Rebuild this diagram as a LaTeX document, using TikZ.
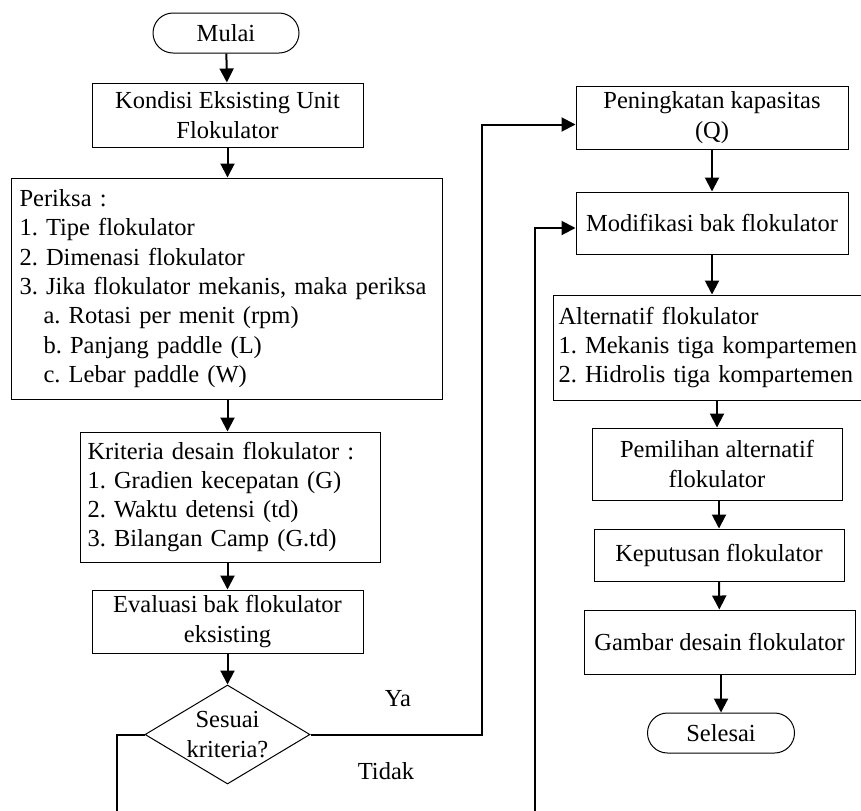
\documentclass[tikz,border=0pt]{standalone}
\usepackage{fontspec}
\setmainfont{Liberation Serif}
\usetikzlibrary{arrows.meta, shapes.geometric}
\frenchspacing

\begin{document}
\begin{tikzpicture}[x=0.5pt, y=-0.5pt,
    every node/.style={font=\fontsize{12.25}{14.65}\selectfont, inner sep=0pt},
    proses/.style={draw, line width=0.5pt, rectangle, align=center},
    daftar/.style={draw, line width=0.5pt, rectangle, align=left, anchor=west},
    terminal/.style={draw, line width=0.5pt, rectangle, rounded corners=10pt, minimum width=73pt, minimum height=20pt},
    panah/.style={-{Triangle[length=7pt, width=7pt]}, line width=1pt}]
    \useasboundingbox (0,0) rectangle (861,810);
    \clip (0,0) rectangle (861,810);
    \node [terminal] (mulai) at (226,33) {Mulai};
    \node [proses, minimum width=135.5pt, minimum height=32pt] (kondisi) at (227.5,115) {Kondisi Eksisting Unit\\Flokulator};
    \node [daftar, text width=207.5pt, inner xsep=4pt, minimum height=110.5pt] (periksa) at (11,288.5) {Periksa :\\1. Tipe flokulator\\2. Dimenasi flokulator\\3. Jika flokulator mekanis, maka periksa\\\hspace*{12pt}a. Rotasi per menit (rpm)\\\hspace*{12pt}b. Panjang paddle (L)\\\hspace*{12pt}c. Lebar paddle (W)};
    \node [daftar, text width=143pt, inner xsep=3.5pt, minimum height=65pt] (kriteria) at (80,497) {Kriteria desain flokulator :\\1. Gradien kecepatan (G)\\2. Waktu detensi (td)\\3. Bilangan Camp (G.td)};
    \node [proses, minimum width=135.5pt, minimum height=31.5pt] (evaluasi) at (227.5,621.5) {Evaluasi bak flokulator\\eksisting};
    \node [draw, line width=0.5pt, diamond, aspect=1.667, minimum width=82.5pt, minimum height=49.5pt, align=center] (sesuai) at (227.5,734.5) {Sesuai\\kriteria?};
    \node (ya) at (398,699) {Ya};
    \node (tidak) at (386,771) {Tidak};
    \node [proses, minimum width=136pt, minimum height=31.5pt] (peningkatan) at (712,117.5) {Peningkatan kapasitas\\(Q)};
    \node [proses, minimum width=136pt, minimum height=31pt] (modifikasi) at (712,223) {Modifikasi bak flokulator};
    \node [daftar, text width=160pt, inner xsep=2.5pt, minimum height=52.5pt] (alternatif) at (553,347.5) {Alternatif flokulator\\1. Mekanis tiga kompartemen\\2. Hidrolis tiga kompartemen};
    \node [proses, minimum width=125pt, minimum height=36pt] (pemilihan) at (717,464) {Pemilihan alternatif\\flokulator};
    \node [proses, minimum width=125pt, minimum height=26pt] (keputusan) at (719,555) {Keputusan flokulator};
    \node [proses, minimum width=135.5pt, minimum height=32pt] (gambar) at (719.5,642) {Gambar desain flokulator};
    \node [terminal, minimum width=73.5pt] (selesai) at (721,733) {Selesai};
    \coordinate (yabelok) at (482,0);
    \coordinate (yamasuk) at ([yshift=-3.5pt]peningkatan.west);
    \coordinate (tidakturun) at (117,850);
    \coordinate (tidaknaik) at (535,850);
    \coordinate (tidakmasuk) at ([yshift=-2.5pt]modifikasi.west);
    \draw [panah] (mulai) -- (kondisi);
    \draw [panah] (kondisi) -- (kondisi |- periksa.north);
    \draw [panah] (kondisi |- periksa.south) -- (kondisi |- kriteria.north);
    \draw [panah] (kondisi |- kriteria.south) -- (evaluasi);
    \draw [panah] (evaluasi) -- (sesuai);
    \draw [panah] (sesuai.east) -| (yabelok |- yamasuk) -- (yamasuk);
    \draw [panah] (sesuai.west) -| (tidakturun) -- (tidaknaik) |- (tidakmasuk);
    \draw [panah] (peningkatan) -- (modifikasi);
    \draw [panah] (modifikasi) -- (modifikasi |- alternatif.north);
    \draw [panah] (pemilihan |- alternatif.south) -- (pemilihan);
    \draw [panah] (keputusan |- pemilihan.south) -- (keputusan);
    \draw [panah] (keputusan) -- (gambar);
    \draw [panah] (selesai |- gambar.south) -- (selesai);
\end{tikzpicture}
\end{document}
